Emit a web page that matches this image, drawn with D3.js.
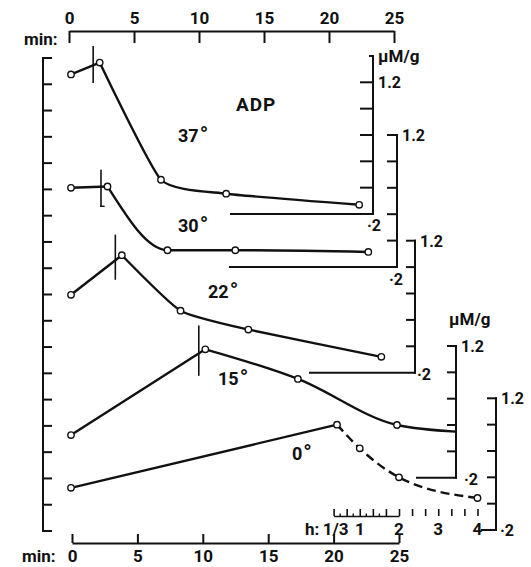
<!DOCTYPE html>
<html><head><meta charset="utf-8">
<script src="https://cdn.jsdelivr.net/npm/d3@7"></script>
<style>
body{margin:0;background:#fff}
text{font-family:Roboto,"DejaVu Sans",sans-serif;font-weight:700;fill:#111}
</style>
</head><body>
<svg id="c" width="531" height="567"></svg>
<script>
// ---------- data ----------
const minTicks = [0, 5, 10, 15, 20, 25];
const hourTickVals = d3.range(1, 13).map(k => k / 3);
const hourLabelVals = [1/3, 1, 2, 3, 4];
const hourLabels = ["1/3", "1", "2", "3", "4"];
const rightTicks = [0.2, 0.4, 0.6, 0.8, 1.0, 1.2];
const temps = ["37", "30", "22", "15", "0"];

const t37 = [0, 2.2, 6.9, 11.9, 22.1];
const v37 = [1.26, 1.35, 0.46, 0.354, 0.27];
const t30 = [0, 2.8, 7.4, 12.6, 22.8];
const v30 = [0.80, 0.81, 0.327, 0.327, 0.314];
const t22 = [0, 3.9, 8.4, 13.6, 23.8];
const v22 = [0.79, 1.09, 0.67, 0.527, 0.32];
const t15 = [0, 10.3, 17.4, 25];
const v15 = [0.524, 1.175, 0.95, 0.60];
const tail15 = 0.55;
const t0 = [0, 20.4];
const v0 = [0.52, 1.0];
const h0 = [1, 2, 4];
const vh0 = [0.82, 0.60, 0.443];

const peakT = [1.7, 2.3, 3.4, 9.8];
const peakLo = [1.2, 0.66, 0.91, 0.98];
const peakHi = [1.47, 0.93, 1.24, 1.35];

// ---------- layout ----------
const svg = d3.select("#c");
const ink = "#111";
const FONT = "Roboto, DejaVu Sans, sans-serif";
const xT = d3.scaleLinear([0, 25], [69, 394]);
const xB = d3.scaleLinear([0, 25], [72, 399]);
const xD = d3.scaleLinear([0, 25], [71, 397]);
const hx = d3.scaleLinear([1/3, 2], [xB(20), xB(25)]);
const yL = d3.scaleLinear([0, 18], [58, 531]);

const axes = [
  {x: 373, y02: 214, y12: 82.3, top: 1.4, base: 231, tl: 12},
  {x: 397, y02: 267, y12: 135, top: 1.2, base: 230, tl: 9},
  {x: 415, y02: 372.7, y12: 240.7, top: 1.2, base: 310, tl: 8},
  {x: 456, y02: 477.7, y12: 346, top: 1.2, base: 417, tl: 8},
  {x: 496, y02: 530, y12: 398.3, top: 1.2, base: 482, tl: 8}
];
axes.forEach(a => a.y = d3.scaleLinear([0.2, 1.2], [a.y02, a.y12]));

const line = (x1, y1, x2, y2, w = 2) =>
  svg.append("line").attr("x1", x1).attr("y1", y1).attr("x2", x2).attr("y2", y2)
     .attr("stroke", ink).attr("stroke-width", w).attr("stroke-linecap", "square");

const styleText = sel => sel.style("font-size", "17px").style("font-family", FONT)
  .style("font-weight", 700).attr("fill", ink);

// ---------- top axis ----------
const gTop = svg.append("g").attr("transform", "translate(0,31)");
gTop.call(d3.axisTop(xT).tickValues(minTicks).tickSize(-12).tickSizeOuter(0))
  .call(g => { g.select(".domain").attr("stroke", ink).attr("stroke-width", 2);
    g.selectAll(".tick line").attr("stroke", ink).attr("stroke-width", 2);
    g.selectAll(".tick text").attr("y", -7).attr("dy", 0).call(styleText); });
svg.append("text").attr("x", 24).attr("y", 45).style("font-size", "17px").text("min:");

// ---------- bottom axis ----------
const gBot = svg.append("g").attr("transform", "translate(0,543)");
gBot.call(d3.axisBottom(xB).tickValues(minTicks).tickSize(-9).tickSizeOuter(0))
  .call(g => { g.select(".domain").attr("stroke", ink).attr("stroke-width", 2);
    g.selectAll(".tick line").attr("stroke", ink).attr("stroke-width", 2);
    g.selectAll(".tick text").attr("y", 19).attr("dy", 0).call(styleText); });
svg.append("text").attr("x", 22).attr("y", 562).style("font-size", "17px").text("min:");

// ---------- hour axis ----------
const gH = svg.append("g").attr("transform", "translate(0,516)");
gH.call(d3.axisBottom(hx).tickValues(hourTickVals).tickSize(-7).tickSizeOuter(0).tickFormat(""))
  .call(g => { g.select(".domain").attr("stroke", ink).attr("stroke-width", 1.6);
    g.selectAll(".tick line").attr("stroke", ink).attr("stroke-width", 1.6); });
gH.selectAll(".minor").data(d3.range(1, 5).map(k => 1/3 + (k - 0.5) / 3)).enter()
  .append("line").attr("x1", d => hx(d)).attr("x2", d => hx(d)).attr("y1", 0).attr("y2", -2.5)
  .attr("stroke", ink).attr("stroke-width", 1.4);
gH.selectAll(".hl").data(hourLabelVals).enter().append("text")
  .attr("x", (d, i) => hx(d) + (i === 0 ? 2 : 0)).attr("y", 19).attr("text-anchor", "middle")
  .style("font-size", "17px").text((d, i) => hourLabels[i]);
svg.append("text").attr("x", 305).attr("y", 535).style("font-size", "17px").text("h:");

// ---------- left axis ----------
line(43, yL(0), 43, yL(18), 2);
d3.range(19).forEach(k => line(43, yL(k), 51, yL(k), 2));

// ---------- right axes ----------
axes.forEach((a, i) => {
  line(a.x, a.y(a.top), a.x, a.y(0.2), 2);
  line(a.base, a.y(0.2), a.x, a.y(0.2), 2);
  rightTicks.filter(v => v > 0.21).forEach(v => line(a.x - a.tl, a.y(v), a.x, a.y(v), 2));
  if (a.top > 1.3) line(a.x - 3, a.y(1.4), a.x, a.y(1.4), 2);
  svg.append("text").attr("x", a.x + 5).attr("y", a.y(1.2) + 6).style("font-size", "16px").text("1.2");
});
const lab02 = [
  {i: 0, dx: 1, dy: 17, anchor: "middle"},
  {i: 1, dx: -1, dy: 18, anchor: "middle"},
  {i: 2, dx: 2, dy: 7, anchor: "start"},
  {i: 3, dx: 8, dy: 7, anchor: "start"},
  {i: 4, dx: 4, dy: 6, anchor: "start"}
];
lab02.forEach(l => {
  const a = axes[l.i];
  svg.append("text").attr("x", a.x + l.dx).attr("y", a.y(0.2) + l.dy)
    .attr("text-anchor", l.anchor).style("font-size", "16px").text("·2");
});
svg.append("text").attr("x", 378).attr("y", 62).style("font-size", "17px").text("µM/g");
svg.append("text").attr("x", 449).attr("y", 325).style("font-size", "17px").text("µM/g");

// ---------- curves ----------
const card = d3.curveCardinal.tension(0.5);
const mono = d3.curveMonotoneX;
const curveKinds = [card, mono, card, mono, mono];
const drawCurve = (pts, kind, dash) => {
  const gen = d3.line().x(d => d[0]).y(d => d[1]).curve(kind);
  const p = svg.append("path").attr("d", gen(pts)).attr("fill", "none")
    .attr("stroke", ink).attr("stroke-width", 2.4).attr("stroke-linejoin", "round");
  if (dash) p.attr("stroke-dasharray", dash);
};
const dots = pts => pts.forEach(p => svg.append("circle").attr("cx", p[0]).attr("cy", p[1])
  .attr("r", 3.2).attr("fill", "#fff").attr("stroke", ink).attr("stroke-width", 1.4));

const series = [[t37, v37], [t30, v30], [t22, v22], [t15, v15]];
const allDots = [];
series.forEach(([ts, vs], i) => {
  const pts = ts.map((t, j) => [xD(t), axes[i].y(vs[j])]);
  const k = d3.maxIndex(vs);
  drawCurve(pts.slice(0, k + 1), curveKinds[i]);
  const fall = pts.slice(k);
  drawCurve(i === 3 ? fall.concat([[axes[3].x, axes[3].y(tail15)]]) : fall, curveKinds[i]);
  allDots.push(...pts);
  line(xD(peakT[i]), axes[i].y(peakHi[i]), xD(peakT[i]), axes[i].y(peakLo[i]), 1.6);
});
line(xD(peakT[1]), axes[1].y(peakLo[1]), xD(peakT[1]) + 3, axes[1].y(peakLo[1]), 1.4);

// 0° curve: solid rise in minutes, dashed fall in hours
const p0 = t0.map((t, j) => [xD(t), axes[4].y(v0[j])]);
const ph = h0.map((h, j) => [hx(h), axes[4].y(vh0[j])]);
drawCurve(p0, curveKinds[4]);
drawCurve([p0[p0.length - 1]].concat(ph), curveKinds[4], "9,5");
allDots.push(...p0, ...ph);
dots(allDots);

// ---------- labels ----------
svg.append("text").attr("x", 236).attr("y", 111).style("font-size", "19px")
  .style("letter-spacing", "1px").text("ADP");
const tempPos = [[178, 142], [178, 232], [208, 298], [218, 385], [292, 460]];
temps.forEach((t, i) => {
  const tx = svg.append("text").attr("x", tempPos[i][0]).attr("y", tempPos[i][1]).style("font-size", "18px");
  tx.append("tspan").text(t);
  tx.append("tspan").attr("dx", 1).style("font-size", "22px").text("°");
});
</script>
</body></html>
